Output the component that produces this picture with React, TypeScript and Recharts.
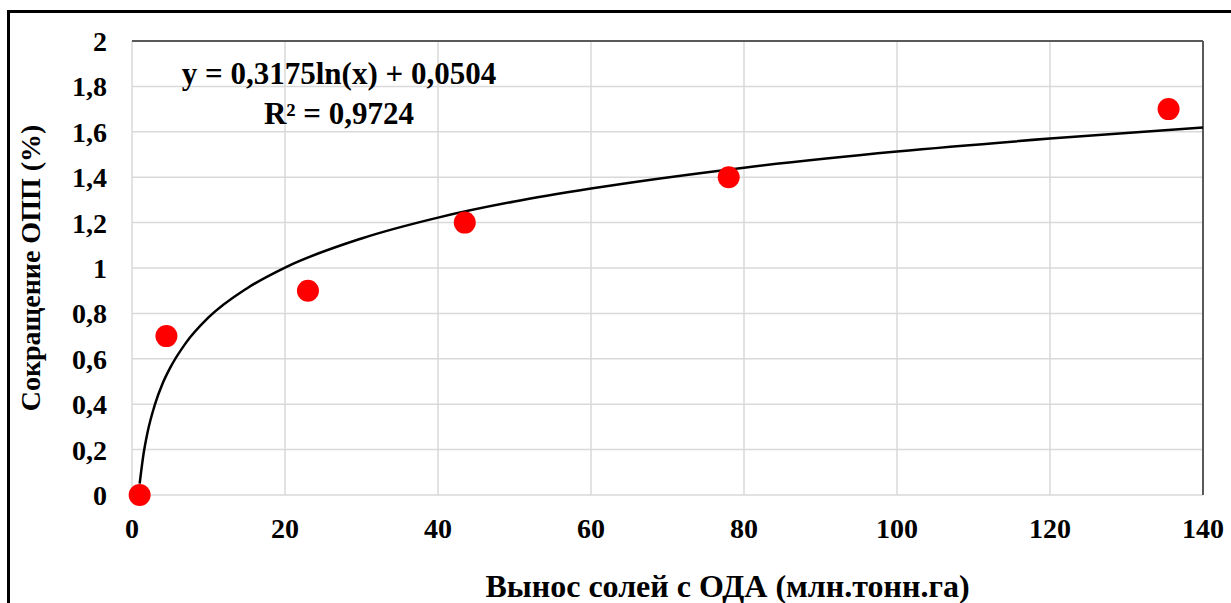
import {
  CartesianGrid,
  ComposedChart,
  Line,
  ReferenceLine,
  Scatter,
  XAxis,
  YAxis,
} from "recharts";

const WIDTH = 1231;
const HEIGHT = 603;
const FONT = "'Liberation Serif', 'Times New Roman', serif";

// измеренные точки: вынос солей (x) и сокращение ОПП (y)
const saltOutput = [1, 4.5, 23, 43.5, 78, 135.5];
const oppReduction = [0, 0.7, 0.9, 1.2, 1.4, 1.7];

// логарифмическая линия тренда
const trendX = [1, 1.5, 2, 3, 4, 5, 7, 10, 15, 20, 30, 40, 50, 60, 80, 100, 120, 140];
const trendY = [
  0.05, 0.179, 0.271, 0.399, 0.491, 0.561, 0.668, 0.782, 0.91, 1.002, 1.13, 1.222,
  1.293, 1.35, 1.442, 1.513, 1.57, 1.619,
];

const xTicks = [0, 20, 40, 60, 80, 100, 120, 140];
const yTicks = [0, 0.2, 0.4, 0.6, 0.8, 1, 1.2, 1.4, 1.6, 1.8, 2];

const EQUATION = "y = 0,3175ln(x) + 0,0504";
const R_SQUARED = "R² = 0,9724";

const points = saltOutput.map((x, i) => ({ x, y: oppReduction[i] }));
const trend = trendX.map((x, i) => ({ x, y: trendY[i] }));

const tickStyle = { fontFamily: FONT, fontSize: 28, fontWeight: 700, fill: "#000" };

function formatY(v: number): string {
  return String(Math.round(v * 10) / 10).replace(".", ",");
}

function RedDot(props: { cx?: number; cy?: number }) {
  const { cx, cy } = props;
  if (cx == null || cy == null) return null;
  return <circle cx={cx} cy={cy} r={11} fill="#ff0000" />;
}

export default function App() {
  return (
    <div
      style={{
        position: "absolute",
        left: 0,
        top: 0,
        width: WIDTH,
        height: HEIGHT,
        overflow: "hidden",
        background: "#fff",
      }}
    >
      <div
        style={{
          position: "absolute",
          left: 7,
          top: 10,
          width: 1400,
          height: 800,
          border: "3px solid #000",
        }}
      />
      <ComposedChart
        width={WIDTH}
        height={HEIGHT}
        margin={{ top: 41, right: 28, bottom: 48, left: 32 }}
        style={{ position: "absolute", left: 0, top: 0 }}
      >
        <CartesianGrid stroke="#d9d9d9" strokeWidth={1.5} />
        <XAxis
          type="number"
          dataKey="x"
          domain={[0, 140]}
          ticks={xTicks}
          axisLine={false}
          tickLine={false}
          tickSize={0}
          tickMargin={23}
          height={60}
          tick={tickStyle}
          label={{
            value: "Вынос солей с ОДА (млн.тонн.га)",
            position: "bottom",
            offset: 19,
            dx: 60,
            style: { fontFamily: FONT, fontSize: 32, fontWeight: 700, fill: "#000" },
          }}
        />
        <YAxis
          type="number"
          dataKey="y"
          domain={[0, 2]}
          ticks={yTicks}
          axisLine={false}
          tickLine={false}
          tickSize={0}
          tickMargin={25}
          width={100}
          tick={tickStyle}
          tickFormatter={formatY}
          label={{
            value: "Сокращение ОПП (%)",
            angle: -90,
            position: "insideLeft",
            offset: -2,
            style: {
              fontFamily: FONT,
              fontSize: 28,
              fontWeight: 700,
              fill: "#000",
              textAnchor: "middle",
            },
          }}
        />
        <ReferenceLine y={2} stroke="#595959" strokeWidth={2} />
        <ReferenceLine x={140} stroke="#595959" strokeWidth={2} />
        <Line
          data={trend}
          dataKey="y"
          type="monotone"
          stroke="#000"
          strokeWidth={2.5}
          dot={false}
          activeDot={false}
          isAnimationActive={false}
        />
        <Scatter data={points} dataKey="y" shape={RedDot} isAnimationActive={false} />
      </ComposedChart>
      <div
        style={{
          position: "absolute",
          left: 139,
          top: 54,
          width: 400,
          textAlign: "center",
          fontFamily: FONT,
          fontSize: 31,
          fontWeight: 700,
          lineHeight: "40px",
          color: "#000",
        }}
      >
        <div>{EQUATION}</div>
        <div>{R_SQUARED}</div>
      </div>
    </div>
  );
}
